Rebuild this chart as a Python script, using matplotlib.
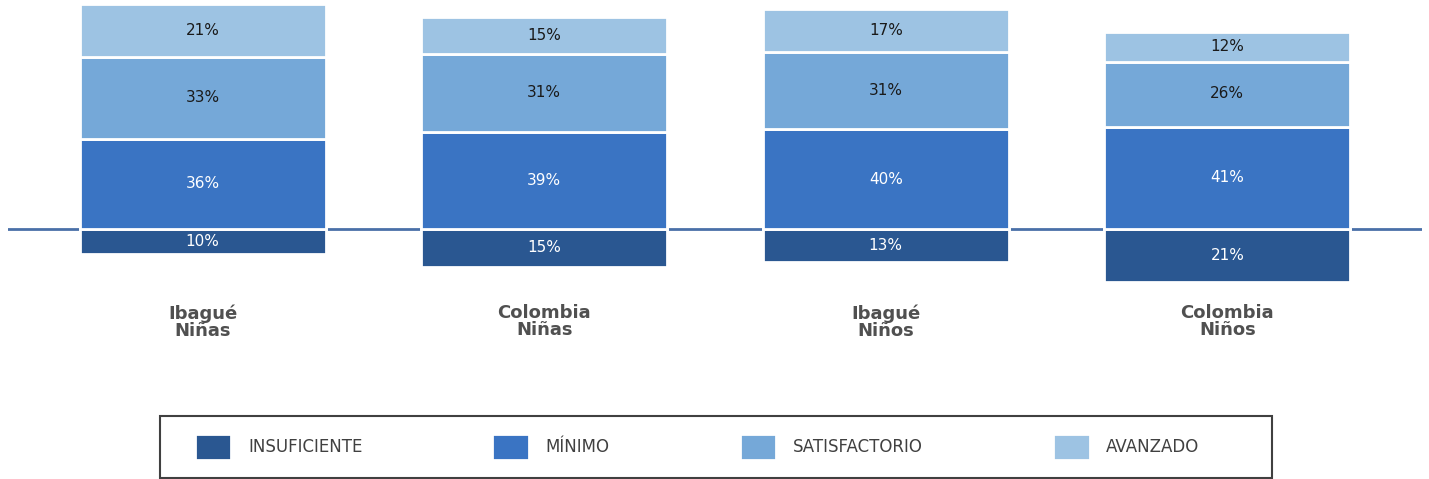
import matplotlib
matplotlib.use("Agg")
import matplotlib.pyplot as plt
from matplotlib.patches import Rectangle
import numpy as np

categories = ["Ibagué\nNiñas", "Colombia\nNiñas", "Ibagué\nNiños", "Colombia\nNiños"]
levels = ["INSUFICIENTE", "MÍNIMO", "SATISFACTORIO", "AVANZADO"]
insuficiente = [10, 15, 13, 21]
minimo = [36, 39, 40, 41]
satisfactorio = [33, 31, 31, 26]
avanzado = [21, 15, 17, 12]

colors = ["#2A5791", "#3A74C3", "#75A8D8", "#9DC3E3"]
text_colors = ["white", "white", "#1a1a1a", "#1a1a1a"]

fig = plt.figure(figsize=(14.29, 4.79), dpi=100)
ax = fig.add_axes([8/1429, 1 - 300/479, (1422 - 8)/1429, 300/479])

x = np.arange(len(categories))
width = 0.72

ax.axhline(0, color="#4A70A8", lw=2, zorder=1)

# negative side
ax.bar(x, [-v for v in insuficiente], width, color=colors[0],
       edgecolor="white", linewidth=2, zorder=2, label=levels[0])
for xi, v in zip(x, insuficiente):
    ax.text(xi, -v / 2, f"{v}%", ha="center", va="center", color=text_colors[0],
            fontsize=11, zorder=3)

bottom = np.zeros(len(categories))
for vals, col, tc, lab in zip([minimo, satisfactorio, avanzado], colors[1:], text_colors[1:], levels[1:]):
    ax.bar(x, vals, width, bottom=bottom, color=col, edgecolor="white",
           linewidth=2, zorder=2, label=lab)
    for xi, b, v in zip(x, bottom, vals):
        ax.text(xi, b + v / 2, f"{v}%", ha="center", va="center", color=tc,
                fontsize=11, zorder=3)
    bottom = bottom + np.array(vals)

ax.set_xlim(-0.57, len(categories) - 1 + 0.57)
ax.set_ylim(-(300 - 229) / 2.5, 229 / 2.5)
ax.set_xticks(x)
ax.set_xticklabels(categories, fontsize=13, fontweight="bold", color="#505050",
                   linespacing=0.95)
ax.tick_params(axis="x", length=0, pad=3)
ax.set_yticks([])
for s in ax.spines.values():
    s.set_visible(False)

# legend frame
fig.patches.append(Rectangle((160/1429, 1 - 478/479), (1272 - 160)/1429, 62/479,
                             transform=fig.transFigure, fill=False,
                             edgecolor="#404040", linewidth=1.5))

handles, labels = ax.get_legend_handles_labels()
leg = fig.legend(handles, labels, loc="center", ncol=4,
                 bbox_to_anchor=(697/1429, 1 - 447/479),
                 fontsize=12, frameon=False,
                 handlelength=2.2, handleheight=2.1, handletextpad=1.0,
                 columnspacing=7.8, borderpad=0, borderaxespad=0)
for t in leg.get_texts():
    t.set_color("#404040")

fig.savefig("out.png", dpi=100)
